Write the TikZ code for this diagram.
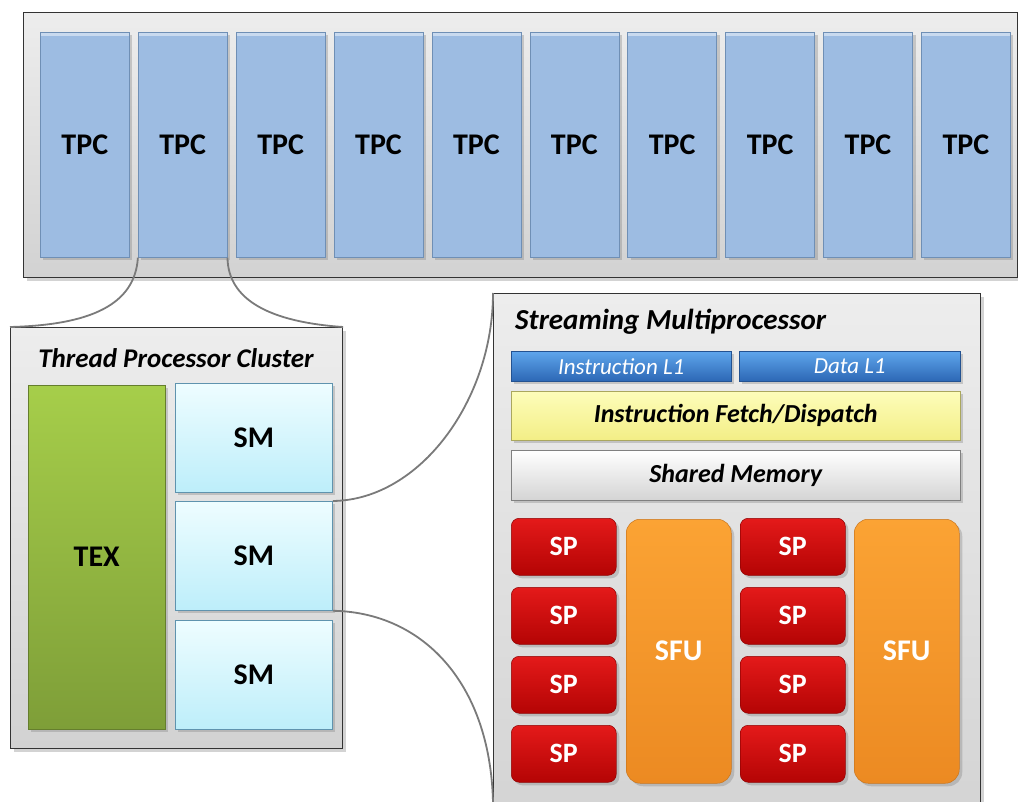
\documentclass[tikz,border=0pt]{standalone}
\usepackage{fontspec}
\setmainfont{Carlito}
\usetikzlibrary{shadows}

\definecolor{panelTop}{HTML}{EDEDED}
\definecolor{panelBot}{HTML}{D2D2D2}
\definecolor{tpcFill}{HTML}{9DBCE2}
\definecolor{tpcEdge}{HTML}{6F8FB5}
\definecolor{texTop}{HTML}{A6CE4A}
\definecolor{texBot}{HTML}{7E9E38}
\definecolor{smTop}{HTML}{EEFDFF}
\definecolor{smBot}{HTML}{BDEEFA}
\definecolor{smEdge}{HTML}{5F93AE}
\definecolor{l1Top}{HTML}{5FA6EC}
\definecolor{l1Bot}{HTML}{2C67B5}
\definecolor{fdTop}{HTML}{FDFDBA}
\definecolor{fdBot}{HTML}{F3EE86}
\definecolor{shTop}{HTML}{FFFFFF}
\definecolor{shBot}{HTML}{D4D4D4}
\definecolor{spTop}{HTML}{E41A1A}
\definecolor{spBot}{HTML}{B40404}
\definecolor{sfuTop}{HTML}{FBA334}
\definecolor{sfuBot}{HTML}{EC8A22}
\definecolor{linkGray}{HTML}{7A7A7A}

\begin{document}
\begin{tikzpicture}[x=1pt,y=-1pt,
  softshadow/.style={drop shadow={opacity=0.35,shadow xshift=3pt,shadow yshift=-3pt}},
  panel/.style={draw=black!80,line width=1.1pt,top color=panelTop,bottom color=panelBot,
    anchor=north west,inner sep=0pt,softshadow},
  unit/.style={anchor=north west,inner sep=0pt,softshadow,
    font=\fontsize{30}{32}\selectfont\bfseries},
  tpcunit/.style={unit,draw=tpcEdge,line width=0.6pt,fill=tpcFill,
    minimum width=89pt,minimum height=225pt,
    path picture={\fill[white,opacity=0.45] (path picture bounding box.north west)
      rectangle ([yshift=-4pt]path picture bounding box.north east);}},
  texunit/.style={unit,draw=texBot!80!black,line width=0.5pt,top color=texTop,bottom color=texBot,
    minimum width=137pt,minimum height=344pt},
  smunit/.style={unit,draw=smEdge,line width=0.8pt,top color=smTop,bottom color=smBot,
    minimum width=157pt,minimum height=109pt},
  bar/.style={anchor=north west,inner sep=0pt,softshadow,
    font=\fontsize{26}{28}\selectfont\bfseries\itshape},
  l1bar/.style={bar,draw=l1Bot!80!black,line width=0.5pt,top color=l1Top,bottom color=l1Bot,
    minimum width=220pt,minimum height=30pt,text=white,
    font=\fontsize{23}{25}\selectfont\itshape},
  fdbar/.style={bar,draw=fdBot!70!black,line width=0.5pt,top color=fdTop,bottom color=fdBot,
    minimum width=449pt,minimum height=49pt},
  shbar/.style={bar,draw=gray,line width=0.5pt,top color=shTop,bottom color=shBot,
    minimum width=449pt,minimum height=50pt},
  spunit/.style={unit,draw=spBot!80!black,line width=0.5pt,top color=spTop,bottom color=spBot,
    rounded corners=8pt,minimum width=105pt,minimum height=57pt,text=white,
    font=\fontsize{28}{30}\selectfont\bfseries},
  sfuunit/.style={unit,draw=sfuBot!85!black,line width=0.5pt,top color=sfuTop,bottom color=sfuBot,
    rounded corners=14pt,minimum width=105pt,minimum height=264pt,text=white},
  title/.style={inner sep=0pt,font=\fontsize{27}{29}\selectfont\bfseries\itshape},
  link/.style={draw=linkGray,line width=1.8pt}
]
\useasboundingbox (0,0) rectangle (1018,802);

% ---- GPU: row of thread processor clusters ----
\node[panel,minimum width=994pt,minimum height=265pt] (gpu) at (23,12) {};
\foreach \i in {1,...,10}{
  \node[tpcunit] (tpc\i) at ({40+97.9*(\i-1)},32) {TPC};
}

% ---- thread processor cluster ----
\node[panel,minimum width=332pt,minimum height=421pt] (cluster) at (10,327) {};
\node[title] (clustertitle) at (176,358) {Thread Processor Cluster};
\node[texunit] (tex) at (28,385) {TEX};
\node[smunit] (sm1) at (175,383) {SM};
\node[smunit] (sm2) at (175,501) {SM};
\node[smunit] (sm3) at (175,620) {SM};

% ---- streaming multiprocessor ----
\node[panel,minimum width=487pt,minimum height=560pt] (smbox) at (493,293) {};
\node[title,anchor=west,font=\fontsize{29}{31}\selectfont\bfseries\itshape] (smtitle) at (515,322) {Streaming Multiprocessor};
\node[l1bar] (il1) at (511,351) {Instruction L1};
\node[l1bar,minimum width=221pt] (dl1) at (739,351) {Data L1};
\node[fdbar] (fetch) at (511,391) {Instruction Fetch/Dispatch};
\node[shbar] (shmem) at (511,450) {Shared Memory};
\foreach \r/\y in {1/518,2/587,3/656,4/725}{
  \node[spunit] (spa\r) at (511,\y) {SP};
  \node[spunit] (spb\r) at (740,\y) {SP};
}
\node[sfuunit] (sfu1) at (626,519) {SFU};
\node[sfuunit] (sfu2) at (854,519) {SFU};

% ---- zoom connectors ----
\coordinate (smlow) at (493,802);
\draw[link] (tpc2.south west) .. controls (135,305) and (90,325) .. (cluster.north west);
\draw[link] (tpc2.south east) .. controls (228,300) and (270,322) .. (cluster.north east);
\draw[link] (sm2.north east) .. controls (420,500) and (493,400) .. (smbox.north west);
\draw[link] (sm2.south east) .. controls (420,612) and (490,680) .. (smlow);
\end{tikzpicture}
\end{document}
